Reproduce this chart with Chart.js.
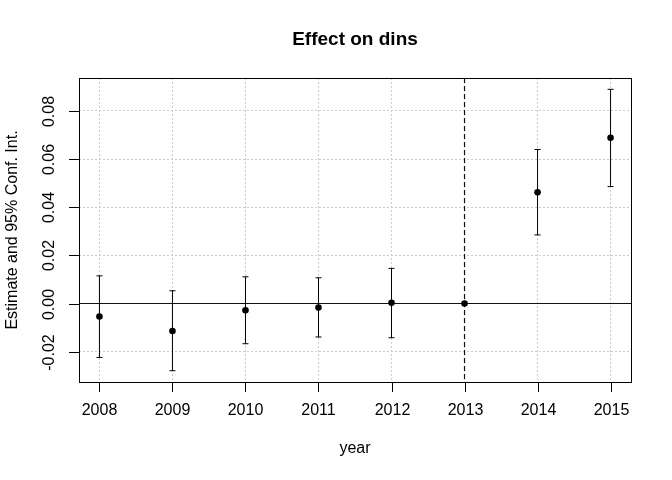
<!DOCTYPE html>
<html>
<head>
<meta charset="utf-8">
<script src="https://cdn.jsdelivr.net/npm/chart.js@4/dist/chart.umd.min.js"></script>
<style>
body{margin:0;background:#fff}
</style>
</head>
<body>
<canvas id="chart" width="672" height="480"></canvas>
<script>
// data
const years = [2008, 2009, 2010, 2011, 2012, 2013, 2014, 2015]
const estimate = [-0.0054, -0.0114, -0.0028, -0.0017, 0.0003, 0, 0.0462, 0.0689]
const ciLow = [-0.0224, -0.0279, -0.0167, -0.0139, -0.0142, 0, 0.0285, 0.0486]
const ciHigh = [0.0115, 0.0053, 0.0111, 0.0107, 0.0146, 0, 0.0640, 0.0890]
const yTicks = [-0.02, 0.00, 0.02, 0.04, 0.06, 0.08]
const refYear = 2013
const refZero = 0

const FONT = '"Liberation Sans", Arial, Helvetica, sans-serif'

// one small line dataset per error bar, caps done with pointStyle 'line'
let barSets = []
years.forEach((yr, i) => {
  if (ciLow[i] === ciHigh[i]) return
  barSets.push({
    type: 'line',
    data: [{x: yr, y: ciLow[i]}, {x: yr, y: ciHigh[i]}],
    showLine: true,
    borderColor: '#000',
    borderWidth: 1,
    pointStyle: 'line',
    pointRadius: 3,
    pointBorderWidth: 1,
    pointBorderColor: '#000',
    pointHoverRadius: 3
  })
})

// R style frame, ticks, labels, reference lines
const rStyle = {
  id: 'rStyle',
  beforeDatasetsDraw(chart){
    const ctx = chart.ctx, a = chart.chartArea
    const xs = chart.scales.x, ys = chart.scales.y
    ctx.save()
    ctx.beginPath()
    ctx.rect(a.left, a.top, a.right - a.left, a.bottom - a.top)
    ctx.clip()
    // horizontal line at zero
    let y0 = ys.getPixelForValue(refZero)
    ctx.strokeStyle = '#111'
    ctx.lineWidth = 1.1
    ctx.beginPath()
    ctx.moveTo(a.left, y0); ctx.lineTo(a.right, y0)
    ctx.stroke()
    // dashed line at reference year
    let xr = xs.getPixelForValue(refYear)
    ctx.strokeStyle = '#111'
    ctx.lineWidth = 1.2
    ctx.setLineDash([5, 3])
    ctx.beginPath()
    ctx.moveTo(xr, a.top); ctx.lineTo(xr, a.bottom)
    ctx.stroke()
    ctx.restore()
  },
  afterDraw(chart){
    const ctx = chart.ctx, a = chart.chartArea
    const xs = chart.scales.x, ys = chart.scales.y
    ctx.save()
    ctx.strokeStyle = '#000'
    ctx.lineWidth = 1
    ctx.strokeRect(a.left + 0.5, a.top + 0.5, a.right - a.left, a.bottom - a.top)

    ctx.fillStyle = '#000'
    ctx.font = '16px ' + FONT
    // x ticks
    ctx.textAlign = 'center'
    ctx.textBaseline = 'middle'
    years.forEach(v => {
      let px = Math.round(xs.getPixelForValue(v)) + 0.5
      ctx.beginPath()
      ctx.moveTo(px, a.bottom); ctx.lineTo(px, a.bottom + 10)
      ctx.stroke()
      ctx.fillText(String(v), px, 411)
    })
    // y ticks, rotated labels
    yTicks.forEach(v => {
      let py = Math.round(ys.getPixelForValue(v)) + 0.5
      ctx.beginPath()
      ctx.moveTo(a.left - 10, py); ctx.lineTo(a.left, py)
      ctx.stroke()
      ctx.save()
      ctx.translate(50, py)
      ctx.rotate(-Math.PI / 2)
      ctx.fillText(v.toFixed(2), 0, 0)
      ctx.restore()
    })
    // axis titles
    ctx.fillText('year', (a.left + a.right) / 2, 449)
    ctx.save()
    ctx.translate(13, (a.top + a.bottom) / 2)
    ctx.rotate(-Math.PI / 2)
    ctx.fillText('Estimate and 95% Conf. Int.', 0, 0)
    ctx.restore()
    // main title
    ctx.font = 'bold 19px ' + FONT
    ctx.fillText('Effect on dins', (a.left + a.right) / 2, 40)
    ctx.restore()
  }
}

const ctx = document.getElementById('chart').getContext('2d')

new Chart(ctx, {
  type: 'scatter',
  data: {
    datasets: [
      {
        data: years.map((yr, i) => ({x: yr, y: estimate[i]})),
        backgroundColor: '#000',
        borderColor: '#000',
        pointRadius: 3.3,
        pointBorderWidth: 0,
        pointHoverRadius: 3.3
      },
      ...barSets
    ]
  },
  options: {
    responsive: false,
    animation: false,
    devicePixelRatio: 1,
    layout: {padding: {left: 79, right: 41, top: 78, bottom: 98}},
    plugins: {legend: {display: false}, tooltip: {enabled: false}, title: {display: false}},
    scales: {
      x: {
        type: 'linear',
        min: 2007.72,
        max: 2015.28,
        afterBuildTicks: s => { s.ticks = years.map(v => ({value: v})) },
        afterFit: s => { s.height = 0 },
        ticks: {display: false},
        grid: {color: '#cccccc', lineWidth: 1, drawTicks: false},
        border: {display: false, dash: [2, 2]}
      },
      y: {
        type: 'linear',
        min: -0.0326,
        max: 0.0937,
        afterBuildTicks: s => { s.ticks = yTicks.map(v => ({value: v})) },
        afterFit: s => { s.width = 0 },
        ticks: {display: false},
        grid: {color: '#cccccc', lineWidth: 1, drawTicks: false},
        border: {display: false, dash: [2, 2]}
      }
    }
  },
  plugins: [rStyle]
})
</script>
</body>
</html>
